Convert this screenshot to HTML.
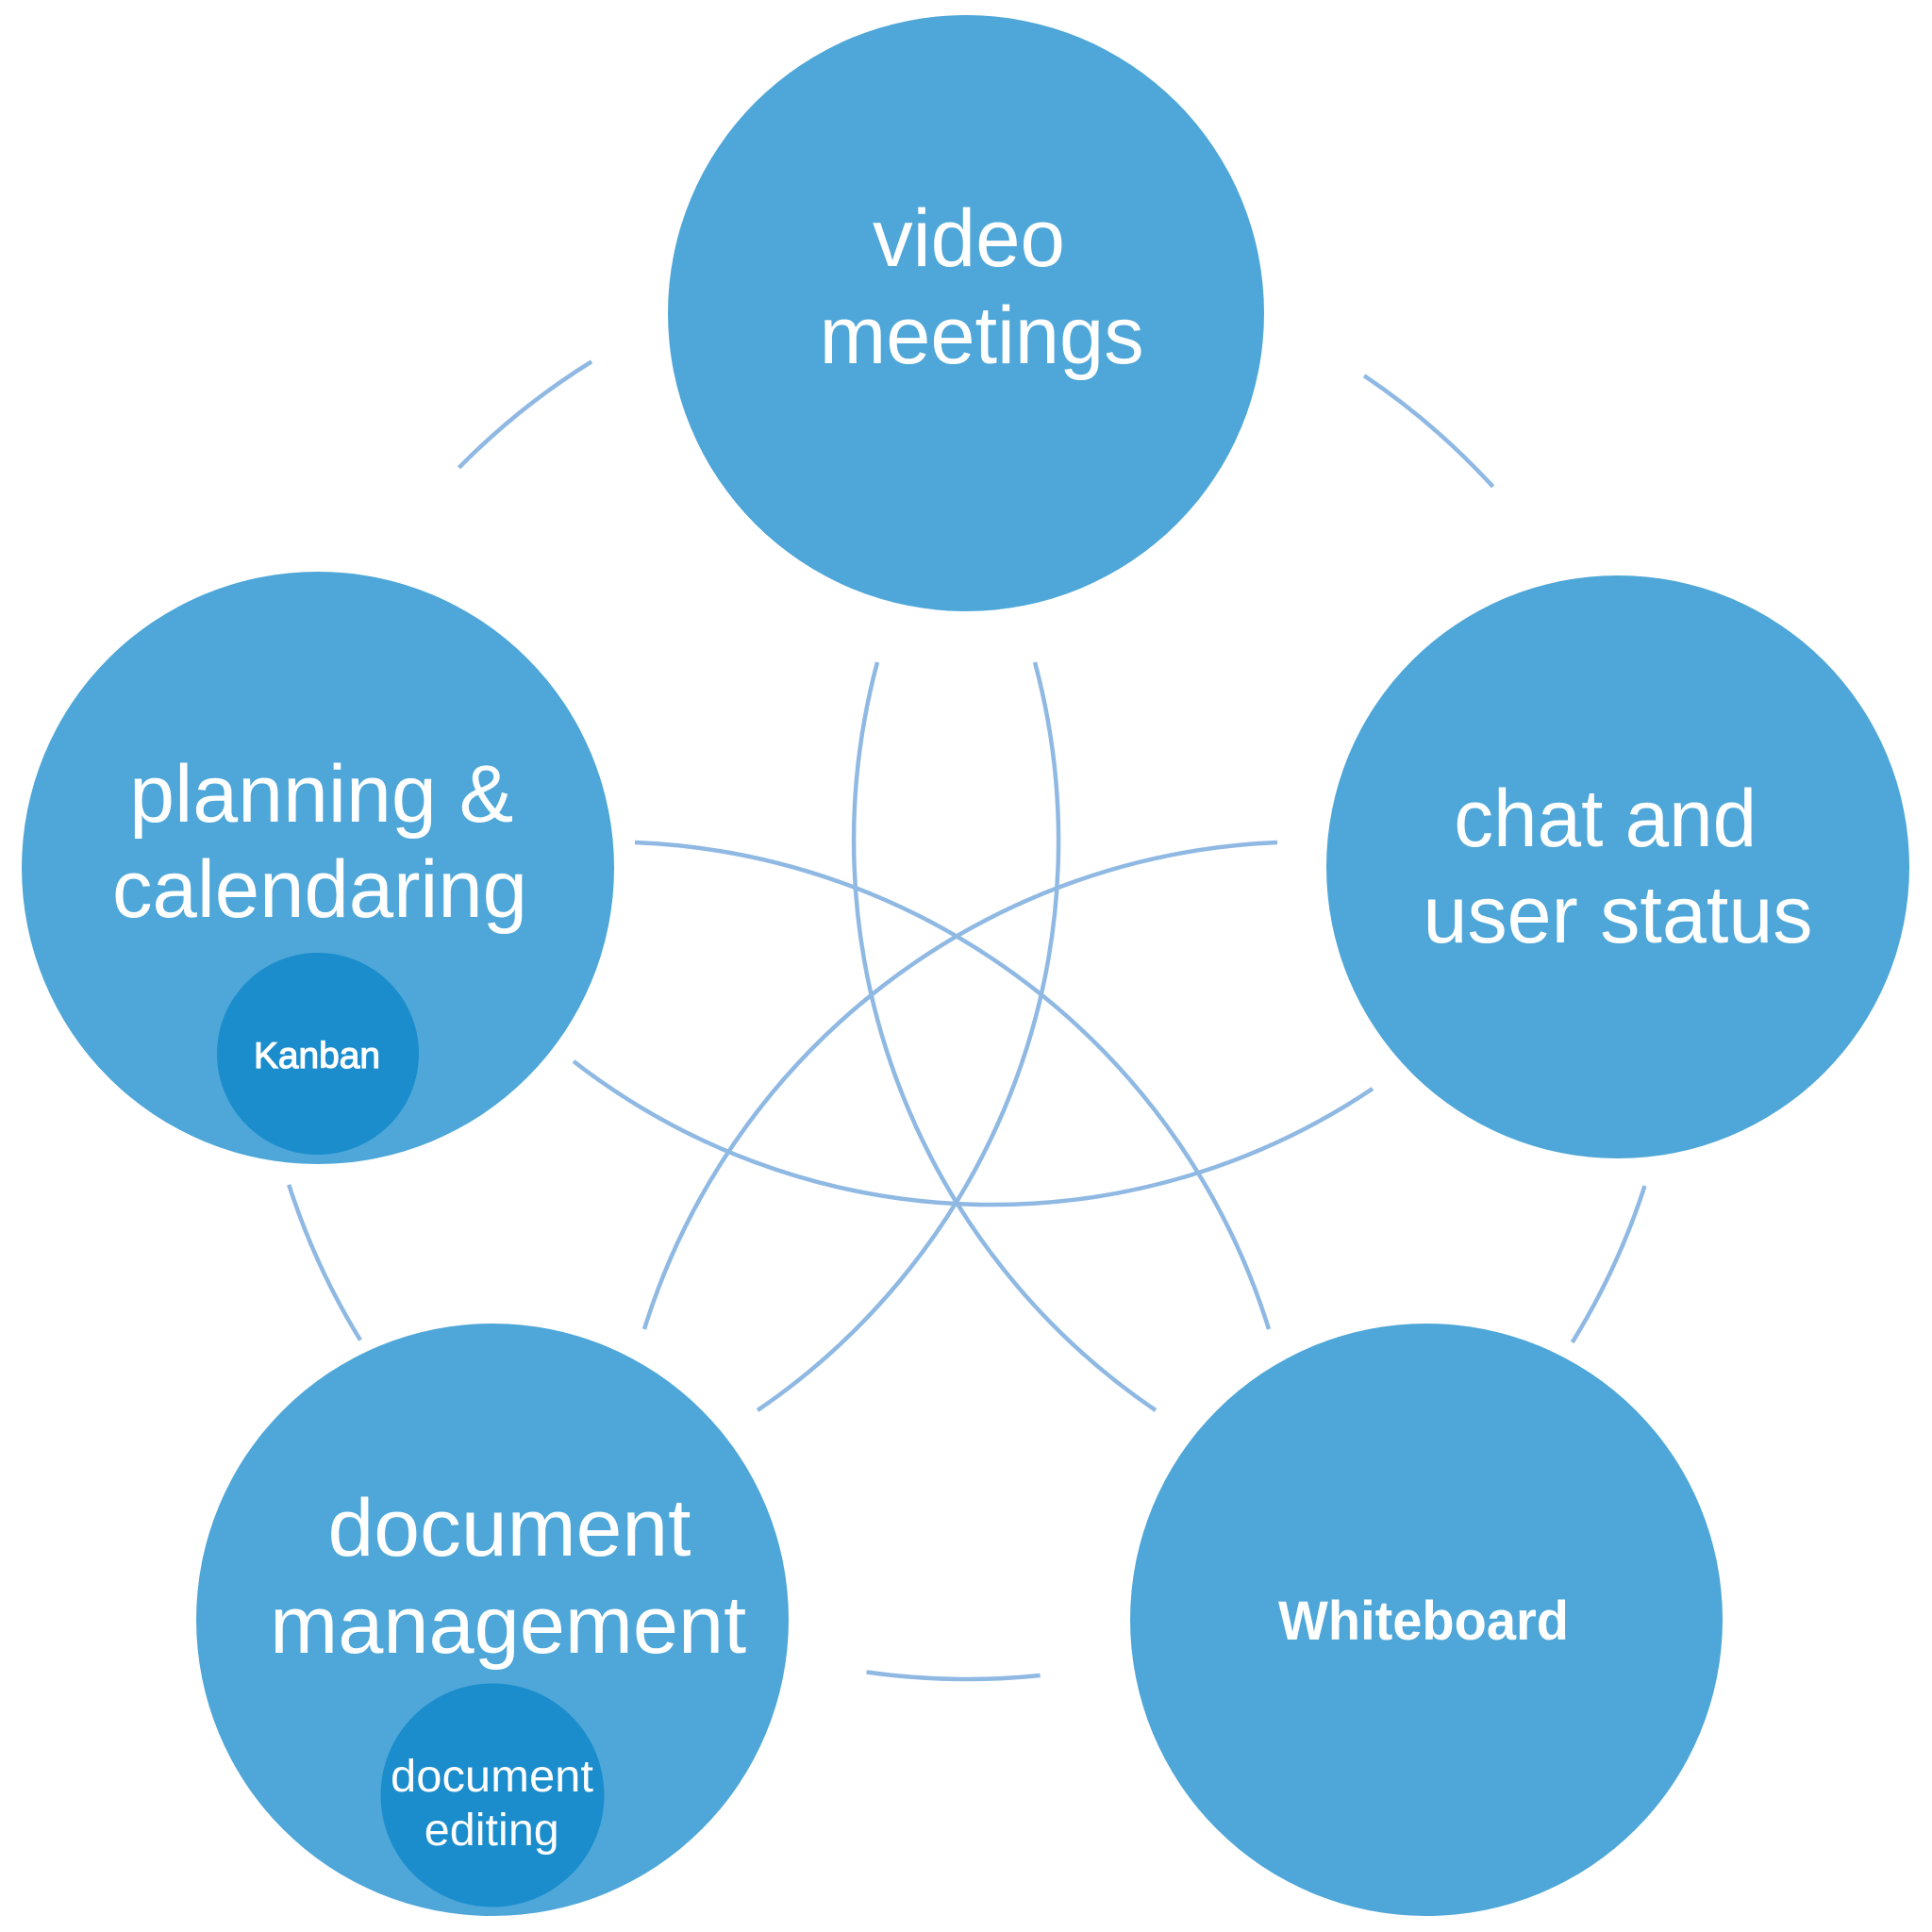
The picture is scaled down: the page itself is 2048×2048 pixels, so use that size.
<!DOCTYPE html>
<html>
<head>
<meta charset="utf-8">
<style>
  html, body { margin: 0; padding: 0; background: #ffffff; }
  svg { display: block; }
  text { font-family: "Liberation Sans", Arial, sans-serif; fill: #ffffff; }
</style>
</head>
<body>
<svg width="2048" height="2048" viewBox="0 0 2048 2048" xmlns="http://www.w3.org/2000/svg">
  <rect width="2048" height="2048" fill="#ffffff"/>

  <!-- connector arcs -->
  <g fill="none" stroke="#8fb9e3" stroke-width="4.5" stroke-linecap="butt">
    <!-- outer ring segments (center 1025,1025 r 755) -->
    <path d="M486.5 495.8 A755 755 0 0 1 627.1 383.3"/>
    <path d="M1446.1 398.3 A755 755 0 0 1 1582.6 515.9"/>
    <path d="M1743.5 1257.1 A755 755 0 0 1 1666.7 1422.9"/>
    <path d="M1102.6 1776 A755 755 0 0 1 918.6 1772.5"/>
    <path d="M382 1420.6 A755 755 0 0 1 306.2 1255.8"/>

    <!-- inner star arcs -->
    <path d="M930 702 A730 730 0 0 0 1225 1495"/>
    <path d="M1097 702 A730 730 0 0 1 803 1495"/>
    <path d="M673 893 A734 734 0 0 1 1345 1409"/>
    <path d="M1354 893 A734 734 0 0 0 683 1409"/>
    <path d="M608 1125 A723 723 0 0 0 1455 1154"/>
  </g>

  <!-- main circles -->
  <g fill="#4ea7d8">
    <circle cx="1024" cy="332" r="316"/>
    <circle cx="337" cy="920" r="314"/>
    <circle cx="1715" cy="919" r="309"/>
    <circle cx="522" cy="1717" r="314"/>
    <circle cx="1512" cy="1717" r="314"/>
  </g>

  <!-- inner circles -->
  <g fill="#1b8dcc">
    <circle cx="337" cy="1117" r="107"/>
    <circle cx="522" cy="1903" r="118.5"/>
  </g>

  <!-- labels -->
  <g font-size="86" text-anchor="middle">
    <text x="1027" y="282" textLength="204" lengthAdjust="spacingAndGlyphs">video</text>
    <text x="1040.6" y="385" textLength="344" lengthAdjust="spacingAndGlyphs">meetings</text>

    <text x="340.7" y="871" textLength="407" lengthAdjust="spacingAndGlyphs">planning &amp;</text>
    <text x="339" y="972" textLength="440" lengthAdjust="spacingAndGlyphs">calendaring</text>

    <text x="1701.7" y="897" textLength="321" lengthAdjust="spacingAndGlyphs">chat and</text>
    <text x="1715" y="999" textLength="413" lengthAdjust="spacingAndGlyphs">user status</text>

    <text x="540" y="1649" textLength="385" lengthAdjust="spacingAndGlyphs">document</text>
    <text x="538.7" y="1752" textLength="505" lengthAdjust="spacingAndGlyphs">management</text>
  </g>

  <text x="336" y="1132" font-size="39" text-anchor="middle" stroke="#ffffff" stroke-width="1.2" textLength="134" lengthAdjust="spacingAndGlyphs">Kanban</text>

  <g font-size="48" text-anchor="middle">
    <text x="521.5" y="1899" textLength="215" lengthAdjust="spacingAndGlyphs">document</text>
    <text x="521.3" y="1956" textLength="143" lengthAdjust="spacingAndGlyphs">editing</text>
  </g>

  <text x="1509" y="1738" font-size="58" font-weight="bold" text-anchor="middle" textLength="308" lengthAdjust="spacingAndGlyphs">Whiteboard</text>
</svg>
</body>
</html>
